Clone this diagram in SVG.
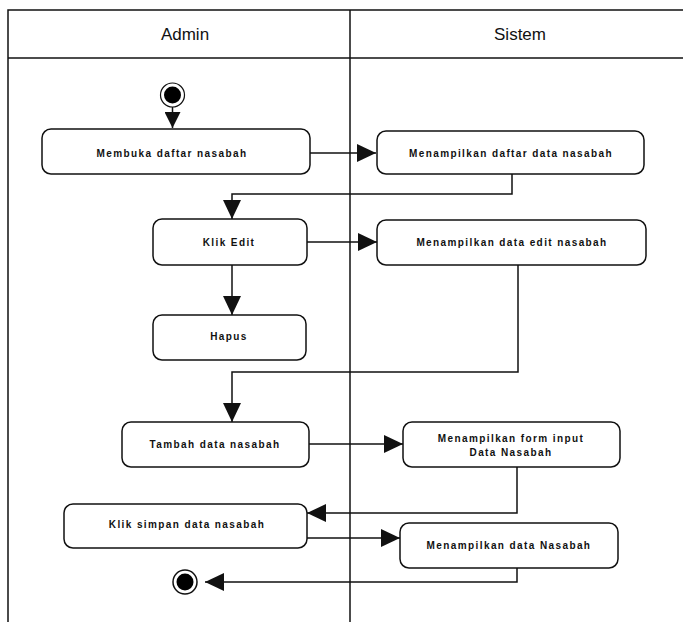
<svg xmlns="http://www.w3.org/2000/svg" width="683" height="622" viewBox="0 0 683 622">
<style>
.lane{fill:none;stroke:#111;stroke-width:1.5}
.hdr{font-family:"Liberation Sans",Arial,sans-serif;font-size:17px;fill:#111;text-anchor:middle}
.box{fill:#fff;stroke:#111;stroke-width:1.5}
.lbl{font-family:"Liberation Sans",Arial,sans-serif;font-size:10px;font-weight:bold;letter-spacing:1.4px;fill:#111;text-anchor:middle}
.edge{fill:none;stroke:#111;stroke-width:1.5}
</style>
<defs>
<marker id="arr" viewBox="0 0 19 18" refX="19" refY="9" markerWidth="19" markerHeight="18" markerUnits="userSpaceOnUse" orient="auto">
<path d="M0,0 L19,9 L0,18 Z" fill="#111"/>
</marker>
<marker id="arrs" viewBox="0 0 16 16" refX="16" refY="8" markerWidth="16" markerHeight="16" markerUnits="userSpaceOnUse" orient="auto">
<path d="M0,0 L16,8 L0,16 Z" fill="#111"/>
</marker>
</defs>
<rect width="683" height="622" fill="#fff"/>
<g id="swimlanes">
<path class="lane" d="M8,622 V10 H690"/>
<path class="lane" d="M8,58 H690"/>
<path class="lane" d="M350,10 V622"/>
<text class="hdr" x="185" y="40">Admin</text>
<text class="hdr" x="520" y="40">Sistem</text>
</g>
<g id="connectors">
<path class="edge" d="M172.5,106 V128" marker-end="url(#arrs)"/>
<path class="edge" d="M310,153 H376" marker-end="url(#arr)"/>
<path class="edge" d="M512,174 V194 H232 V219" marker-end="url(#arr)"/>
<path class="edge" d="M307,242 H377" marker-end="url(#arr)"/>
<path class="edge" d="M232,265 V315" marker-end="url(#arr)"/>
<path class="edge" d="M518,265 V372 H232 V422" marker-end="url(#arr)"/>
<path class="edge" d="M309,444 H403" marker-end="url(#arr)"/>
<path class="edge" d="M517,467 V513 H307" marker-end="url(#arr)"/>
<path class="edge" d="M307,538 H400" marker-end="url(#arr)"/>
<path class="edge" d="M517,568 V582 H205" marker-end="url(#arr)"/>
</g>
<g id="start">
<circle cx="172.5" cy="95" r="12" fill="#fff" stroke="#111" stroke-width="1.2"/>
<circle cx="172.5" cy="95" r="8.5" fill="#000"/>
</g>
<g id="n1">
<rect class="box" x="42" y="129" width="268" height="45" rx="9"/>
<text class="lbl" x="172" y="157">Membuka daftar nasabah</text>
</g>
<g id="n2">
<rect class="box" x="377" y="131" width="267" height="43" rx="9"/>
<text class="lbl" x="511" y="157">Menampilkan daftar data nasabah</text>
</g>
<g id="n3">
<rect class="box" x="153" y="219" width="154" height="46" rx="9"/>
<text class="lbl" x="229" y="246">Klik Edit</text>
</g>
<g id="n4">
<rect class="box" x="377" y="220" width="269" height="45" rx="9"/>
<text class="lbl" x="512" y="246">Menampilkan data edit nasabah</text>
</g>
<g id="n5">
<rect class="box" x="153" y="315" width="153" height="45" rx="9"/>
<text class="lbl" x="229" y="340">Hapus</text>
</g>
<g id="n6">
<rect class="box" x="122" y="422" width="187" height="45" rx="9"/>
<text class="lbl" x="215" y="448">Tambah data nasabah</text>
</g>
<g id="n7">
<rect class="box" x="403" y="422" width="217" height="45" rx="9"/>
<text class="lbl" x="511" y="442">Menampilkan form input</text>
<text class="lbl" x="511" y="456">Data Nasabah</text>
</g>
<g id="n8">
<rect class="box" x="64" y="504" width="243" height="44" rx="9"/>
<text class="lbl" x="187" y="528">Klik simpan data nasabah</text>
</g>
<g id="n9">
<rect class="box" x="400" y="523" width="218" height="45" rx="9"/>
<text class="lbl" x="509" y="549">Menampilkan data Nasabah</text>
</g>
<g id="end">
<circle cx="185" cy="582" r="12" fill="#fff" stroke="#111" stroke-width="1.5"/>
<circle cx="185" cy="582" r="8.5" fill="#000"/>
</g>
</svg>
